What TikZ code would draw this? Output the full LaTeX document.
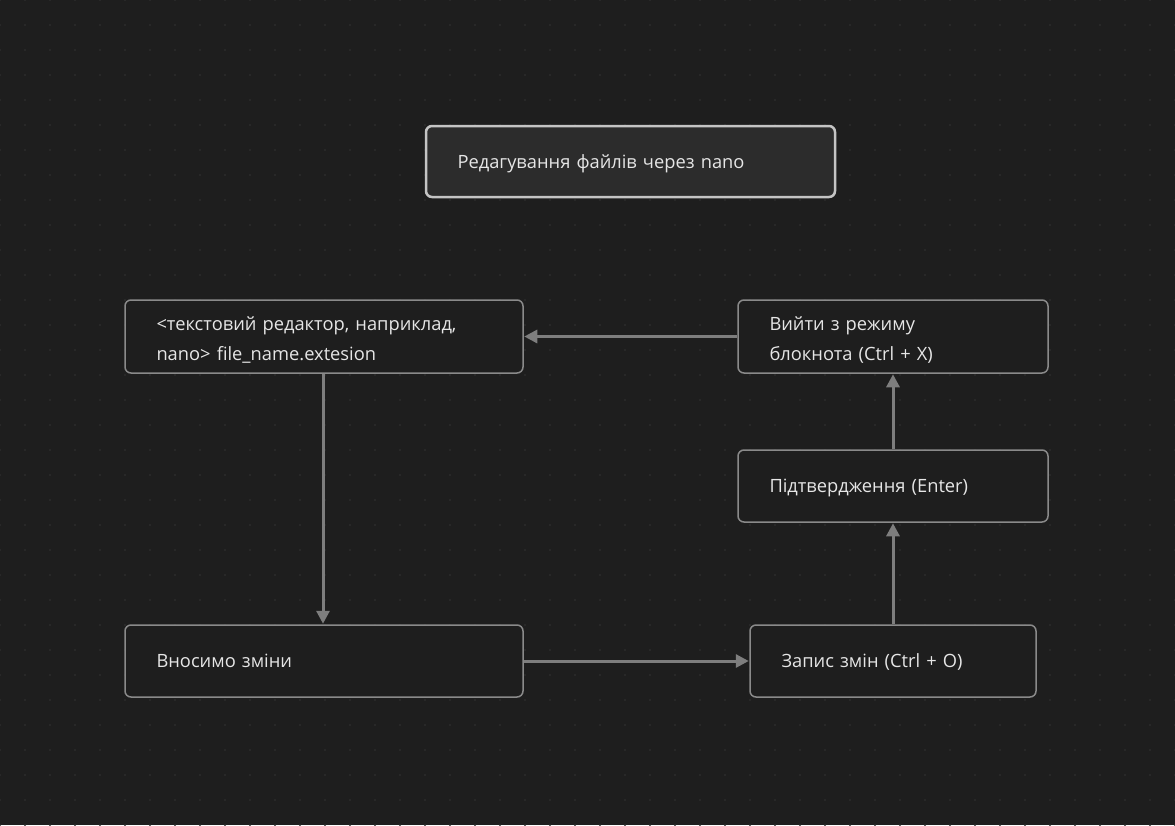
\documentclass[tikz,border=0pt]{standalone}
\usepackage{fontspec}
\setmainfont{Open Sans}
\usetikzlibrary{arrows.meta}
\definecolor{bg}{HTML}{1E1E1E}
\definecolor{dotc}{HTML}{2C2C2C}
\definecolor{boxline}{HTML}{8A8A8A}
\definecolor{titleline}{HTML}{C4C4C4}
\definecolor{titlefill}{HTML}{2C2C2C}
\definecolor{txt}{HTML}{E6E6E6}
\definecolor{arr}{HTML}{7E7E7E}
\tikzset{
  box/.style={draw=boxline, line width=1.5pt, fill=bg, rounded corners=6pt,
    text=txt, align=left, inner xsep=31.5pt, inner ysep=0pt, text depth=0pt,
    font=\fontsize{18.3}{30}\selectfont},
  twoline/.style={text depth=25.5pt},
  titlebox/.style={box, draw=titleline, line width=2.5pt, fill=titlefill},
  conn/.style={draw=arr, line width=3pt, -{Triangle[length=13pt,width=13pt]}, shorten >=0.5pt}
}
\begin{document}
\begin{tikzpicture}[x=1pt,y=-1pt]
\fill[bg] (0,0) rectangle (1175,825);
\useasboundingbox (0,0) rectangle (1175,825);
\foreach \i in {0,...,47}{
  \foreach \j in {0,...,33}{
    \fill[dotc] (\i*25,\j*25) circle (1.1pt);
  }
}
\node[titlebox, text width=409pt-63pt, minimum height=71pt] (title) at (630.5,161.5) {Редагування файлів через nano};
\node[box, twoline, text width=398pt-63pt, minimum height=73pt] (A) at (324,336.5) {<текстовий редактор, наприклад,\\nano> file\_name.extesion};
\node[box, twoline, text width=310pt-63pt, minimum height=73pt] (B) at (893,336.5) {Вийти з режиму\\блокнота (Ctrl + X)};
\node[box, text width=310pt-63pt, minimum height=72pt] (C) at (893,486) {Підтвердження (Enter)};
\node[box, text width=398pt-63pt, minimum height=72pt] (D) at (324,661) {Вносимо зміни};
\node[box, text width=286pt-63pt, minimum height=72pt] (E) at (893,661) {Запис змін (Ctrl + O)};
\draw[conn] (B.west) -- (A.east);
\draw[conn] ([xshift=-1pt]A.south) -- ([xshift=-1pt]D.north);
\draw[conn] (D.east) -- (E.west);
\draw[conn] (E.north) -- (C.south);
\draw[conn] (C.north) -- (B.south);
\end{tikzpicture}
\end{document}
